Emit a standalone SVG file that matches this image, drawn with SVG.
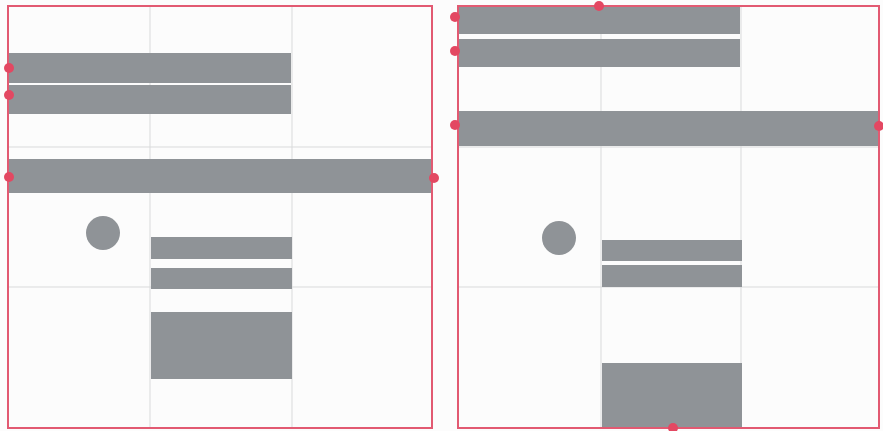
<svg xmlns="http://www.w3.org/2000/svg" width="883" height="431" viewBox="0 0 883 431">
<style>
.frame{fill:none;stroke:#e25a72;stroke-width:2}
.grid{stroke:#d9dadb;stroke-width:1}
.bar{fill:#8f9397}
.dot{fill:#e34862}
</style>
<rect width="883" height="431" fill="#fcfcfc"/>
<g id="panel-left">
<line class="grid" x1="150" y1="6" x2="150" y2="428"/>
<line class="grid" x1="292" y1="6" x2="292" y2="428"/>
<line class="grid" x1="8" y1="147" x2="432" y2="147"/>
<line class="grid" x1="8" y1="287" x2="432" y2="287"/>
<rect class="bar" x="8" y="53" width="283" height="30"/>
<rect class="bar" x="8" y="85" width="283" height="29"/>
<rect class="bar" x="8" y="159" width="424" height="34"/>
<circle class="bar" cx="103" cy="233" r="17"/>
<rect class="bar" x="151" y="237" width="141" height="22"/>
<rect class="bar" x="151" y="268" width="141" height="21"/>
<rect class="bar" x="151" y="312" width="141" height="67"/>
<rect class="frame" x="8" y="6" width="424" height="422"/>
<circle class="dot" cx="9" cy="68" r="5"/>
<circle class="dot" cx="9" cy="95" r="5"/>
<circle class="dot" cx="9" cy="177" r="5"/>
<circle class="dot" cx="434" cy="178" r="5"/>
</g>
<g id="panel-right">
<line class="grid" x1="601" y1="6" x2="601" y2="428"/>
<line class="grid" x1="741" y1="6" x2="741" y2="428"/>
<line class="grid" x1="458" y1="147" x2="879" y2="147"/>
<line class="grid" x1="458" y1="287" x2="879" y2="287"/>
<rect class="bar" x="458" y="6" width="282" height="28"/>
<rect class="bar" x="458" y="39" width="282" height="28"/>
<rect class="bar" x="458" y="111" width="421" height="35"/>
<circle class="bar" cx="559" cy="238" r="17"/>
<rect class="bar" x="602" y="240" width="140" height="21"/>
<rect class="bar" x="602" y="265" width="140" height="22"/>
<rect class="bar" x="602" y="363" width="140" height="65"/>
<rect class="frame" x="458" y="6" width="421" height="422"/>
<circle class="dot" cx="455" cy="17" r="5"/>
<circle class="dot" cx="455" cy="51" r="5"/>
<circle class="dot" cx="455" cy="125" r="5"/>
<circle class="dot" cx="879" cy="126" r="5"/>
<circle class="dot" cx="599" cy="6" r="5"/>
<circle class="dot" cx="673" cy="428" r="5"/>
</g>
<g id="connectors"></g>
</svg>
